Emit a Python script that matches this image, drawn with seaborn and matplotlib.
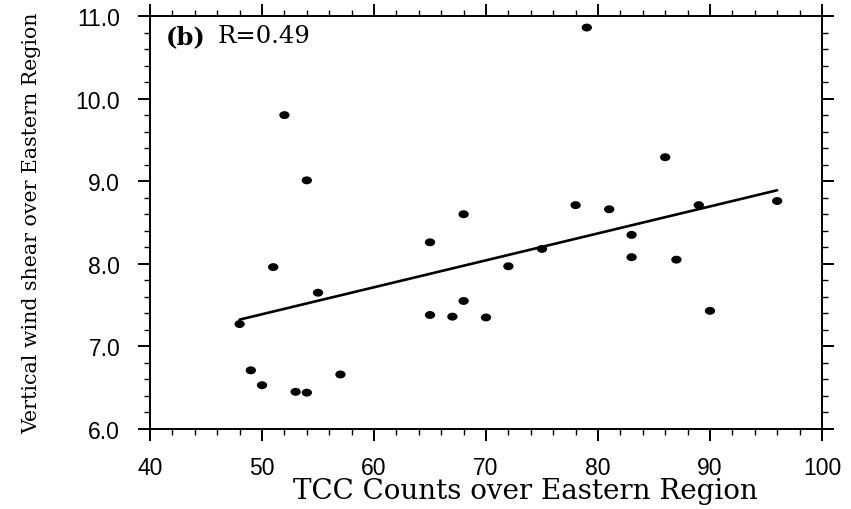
import numpy as np
import pandas as pd
import matplotlib
matplotlib.use('Agg')
import matplotlib.pyplot as plt
import seaborn as sns
from matplotlib.ticker import MultipleLocator, FormatStrFormatter
from matplotlib.path import Path
from matplotlib.transforms import Affine2D

# Dados
tcc_counts = [48, 49, 50, 51, 52, 53, 54, 54, 55, 57, 65, 65, 67, 68, 68,
              70, 72, 75, 78, 79, 81, 83, 83, 86, 87, 89, 90, 96]
wind_shear = [7.27, 6.71, 6.53, 7.96, 9.80, 6.45, 9.01, 6.44, 7.65, 6.66,
              8.26, 7.38, 7.36, 8.60, 7.55, 7.35, 7.97, 8.18, 8.71, 10.86,
              8.66, 8.35, 8.08, 9.29, 8.05, 8.71, 7.43, 8.76]
panel_label = '(b)'
r_text = 'R=0.49'

df = pd.DataFrame({'TCC': tcc_counts, 'VWS': wind_shear})

sns.set_style('ticks')
plt.rcParams['font.family'] = ['Liberation Sans', 'DejaVu Sans']
plt.rcParams['text.color'] = 'black'
plt.rcParams['axes.labelcolor'] = 'black'
plt.rcParams['xtick.color'] = 'black'
plt.rcParams['ytick.color'] = 'black'

# marcador elíptico (pontos levemente achatados como no original)
ellipse = Path.unit_circle().transformed(Affine2D().scale(1.3, 1.0))

fig = plt.figure(figsize=(8.51, 5.10), dpi=100)
ax = fig.add_axes([0.1763, 0.1569, 0.7896, 0.8098])

sns.regplot(data=df, x='TCC', y='VWS', ax=ax, ci=None, truncate=True,
            marker=ellipse,
            scatter_kws={'s': 55, 'color': 'black', 'edgecolor': 'none', 'alpha': 1},
            line_kws={'color': 'black', 'linewidth': 1.9})

ax.set_xlim(40, 100)
ax.set_ylim(6.0, 11.0)
ax.xaxis.set_major_locator(MultipleLocator(10))
ax.xaxis.set_minor_locator(MultipleLocator(2))
ax.yaxis.set_major_locator(MultipleLocator(1))
ax.yaxis.set_minor_locator(MultipleLocator(0.2))
ax.yaxis.set_major_formatter(FormatStrFormatter('%.1f'))

for s in ax.spines.values():
    s.set_visible(True)
    s.set_linewidth(1.4)
    s.set_color('black')

ax.tick_params(which='both', direction='out', top=True, right=True,
               labeltop=False, labelright=False, color='black', labelcolor='black')
ax.tick_params(which='major', length=8.5, width=1.4, labelsize=16.5)
ax.tick_params(which='minor', length=4, width=1.0)
ax.tick_params(axis='x', which='major', pad=11)
ax.tick_params(axis='y', which='major', pad=13)

ax.set_xlabel('TCC Counts over Eastern Region', family='DejaVu Serif',
              fontsize=20, va='baseline')
ax.xaxis.set_label_coords(0.558, -0.168)
ax.set_ylabel('Vertical wind shear over Eastern Region', family='DejaVu Serif',
              fontsize=14.8, labelpad=25)

ax.text(0.024, 0.98, panel_label, transform=ax.transAxes, ha='left', va='top',
        family='DejaVu Serif', fontweight='bold', fontsize=17.5)
ax.text(0.1, 0.98, r_text, transform=ax.transAxes, ha='left', va='top',
        family='DejaVu Serif', fontsize=17.5)

fig.savefig('out.png', dpi=100)
